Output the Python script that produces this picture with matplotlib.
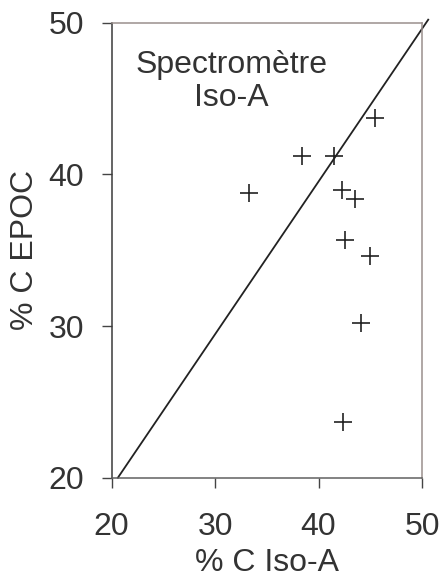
import numpy as np
import matplotlib.pyplot as plt

plt.rcParams['font.family'] = ['Liberation Sans', 'DejaVu Sans']

# % C measured by the Iso-A spectrometer vs % C EPOC
iso_a = [45.5, 38.4, 41.5, 33.3, 42.3, 43.5, 42.6, 45.0, 44.1, 42.4]
epoc = [43.7, 41.2, 41.2, 38.8, 39.0, 38.4, 35.7, 34.6, 30.2, 23.7]

# reference line
line_x = [20.6, 50.6]
line_y = [20.0, 50.2]

ticks = [20, 30, 40, 50]
txt = '#333333'

fig = plt.figure(figsize=(4.43, 5.78), dpi=100)
ax = fig.add_axes([0.2521, 0.1735, 0.7005, 0.7872])

ax.plot(line_x, line_y, color='#222222', lw=1.3, clip_on=False)
ax.plot(iso_a, epoc, linestyle='none', marker='+', ms=13, mew=1.2, color='#222222')

ax.set_xlim(20, 50)
ax.set_ylim(20, 50)
ax.set_xticks(ticks)
ax.set_yticks(ticks)
ax.tick_params(axis='both', direction='out', length=7, width=1, colors='#444444',
               labelsize=23, labelcolor=txt)
ax.tick_params(axis='x', pad=18)
ax.tick_params(axis='y', pad=13)

ax.spines['left'].set_color('#3a3a3a')
ax.spines['bottom'].set_color('#606060')
ax.spines['top'].set_color('#9a8f8d')
ax.spines['right'].set_color('#9a8f8d')
for s in ax.spines.values():
    s.set_linewidth(1.1)

ax.set_xlabel('% C Iso-A', fontsize=23, color=txt, labelpad=4)
ax.set_ylabel('% C EPOC', fontsize=23, color=txt, labelpad=6)

ax.text(0.386, 0.94, 'Spectromètre\nIso-A', transform=ax.transAxes, ha='center',
        va='top', fontsize=23, color=txt, linespacing=1.15)

fig.savefig('out.png', dpi=100)
